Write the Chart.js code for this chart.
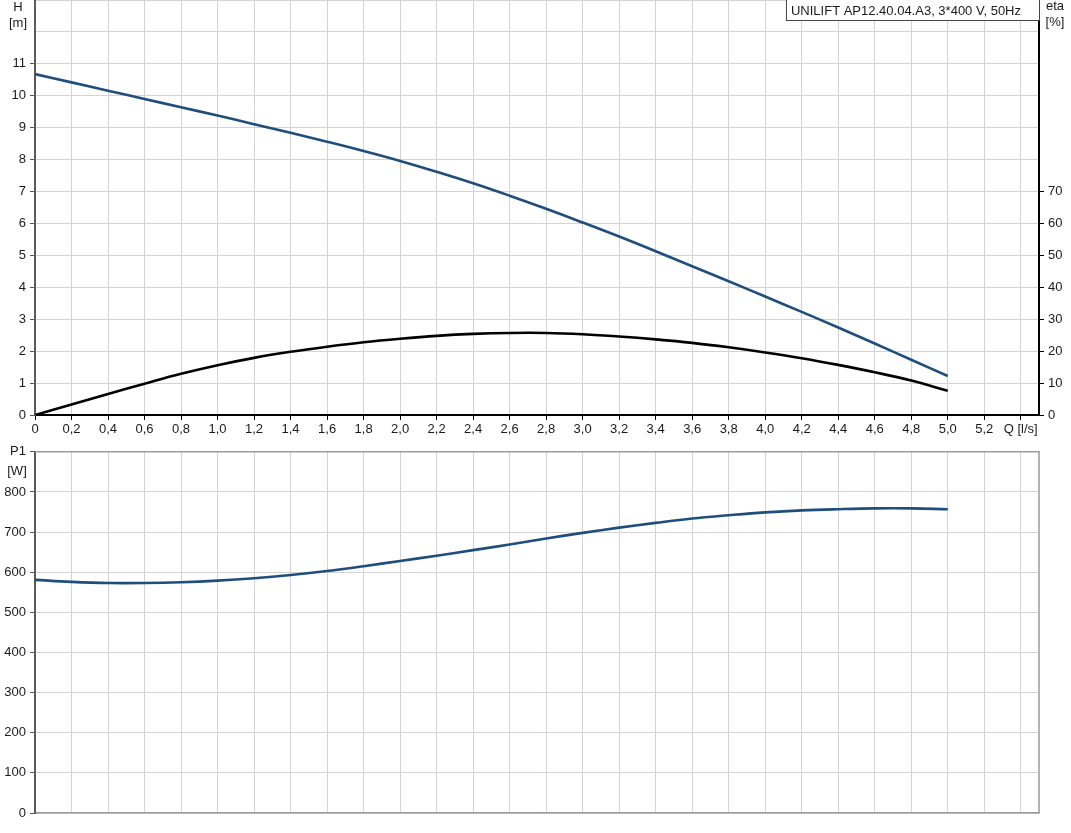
<!DOCTYPE html>
<html>
<head>
<meta charset="utf-8">
<script src="https://cdn.jsdelivr.net/npm/chart.js@4.4.1/dist/chart.umd.min.js"></script>
<style>
    body { margin: 0; background: #fff; }
    #wrap { position: relative; width: 1071px; height: 833px; }
    #curveChart { position: absolute; left: 0; top: 0; }
    #powerChart { position: absolute; left: 0; top: 440px; }
</style>
</head>
<body>
<div id="wrap">
    <canvas id="curveChart" width="1071" height="440"></canvas>
    <canvas id="powerChart" width="1071" height="393"></canvas>
</div>
<script>
// Q [l/s] sample points
const qValues = [0, 0.2, 0.4, 0.6, 0.8, 1.0, 1.2, 1.4, 1.6, 1.8, 2.0, 2.2, 2.4, 2.6, 2.8, 3.0, 3.2, 3.4, 3.6, 3.8, 4.0, 4.2, 4.4, 4.6, 4.8, 5.0];
// H [m]
const headValues = [10.68, 10.42, 10.16, 9.90, 9.64, 9.38, 9.11, 8.84, 8.56, 8.27, 7.96, 7.62, 7.26, 6.87, 6.46, 6.03, 5.59, 5.13, 4.66, 4.19, 3.71, 3.23, 2.74, 2.24, 1.73, 1.22];
// eta [%]
const etaValues = [0, 3.3, 6.6, 9.8, 12.9, 15.6, 17.9, 19.8, 21.4, 22.8, 23.9, 24.8, 25.4, 25.7, 25.7, 25.3, 24.6, 23.7, 22.6, 21.2, 19.6, 17.8, 15.7, 13.4, 10.8, 7.6];
// P1 [W]
const powerValues = [581, 576, 573, 573, 575, 579, 585, 593, 603, 615, 628, 641, 655, 669, 684, 698, 711, 723, 734, 742, 749, 754, 757, 759, 759, 757];

// axis ticks
const qTicks = [0, 0.2, 0.4, 0.6, 0.8, 1.0, 1.2, 1.4, 1.6, 1.8, 2.0, 2.2, 2.4, 2.6, 2.8, 3.0, 3.2, 3.4, 3.6, 3.8, 4.0, 4.2, 4.4, 4.6, 4.8, 5.0, 5.2, 5.4];
const qAxisTitle = 'Q [l/s]';
const pumpTitle = 'UNILIFT AP12.40.04.A3, 3*400 V, 50Hz';

const fontFamily = "'Liberation Sans', Arial, sans-serif";
const tickFont = { family: fontFamily, size: 13 };
const textColor = '#1a1a1a';
const gridColor = '#d3d3d3';
const curveBlue = '#1f4e7d';

function toPoints(values) {
    return qValues.map((q, i) => ({ x: q, y: values[i] }));
}

function qLabel(v) {
    if (v === 5.4) return qAxisTitle;
    if (v === 0) return '0';
    return v.toFixed(1).replace('.', ',');
}

function setQTicks(scale) {
    scale.ticks = qTicks.map(v => ({ value: v }));
}

const curveLabels = {
    id: 'curveLabels',
    afterDraw(chart) {
        const ctx = chart.ctx;
        const area = chart.chartArea;
        ctx.save();
        ctx.font = '13px ' + fontFamily;
        ctx.fillStyle = textColor;
        ctx.textAlign = 'center';
        ctx.textBaseline = 'middle';
        ctx.fillText('H', 18, 7);
        ctx.fillText('[m]', 18, 23);
        ctx.fillText('eta', 1055, 6);
        ctx.fillText('[%]', 1055, 22);

        // pump name box
        ctx.textAlign = 'left';
        const w = ctx.measureText(pumpTitle).width + 23;
        const left = area.right - w;
        ctx.fillStyle = '#fff';
        ctx.fillRect(left, 0, w, 21);
        ctx.strokeStyle = '#444';
        ctx.lineWidth = 1;
        ctx.strokeRect(left + 0.5, -1, w, 21.5);
        ctx.fillStyle = textColor;
        ctx.fillText(pumpTitle, left + 5, 11);
        ctx.restore();
    }
};

const powerLabels = {
    id: 'powerLabels',
    beforeDatasetsDraw(chart) {
        const ctx = chart.ctx;
        const area = chart.chartArea;
        ctx.save();
        ctx.strokeStyle = '#9a9a9a';
        ctx.lineWidth = 1.5;
        ctx.beginPath();
        ctx.moveTo(area.left, area.top);
        ctx.lineTo(area.right, area.top);
        ctx.lineTo(area.right, area.bottom);
        ctx.stroke();
        ctx.restore();
    },
    afterDraw(chart) {
        const ctx = chart.ctx;
        const area = chart.chartArea;
        ctx.save();
        ctx.font = '13px ' + fontFamily;
        ctx.fillStyle = textColor;
        ctx.textAlign = 'center';
        ctx.textBaseline = 'middle';
        ctx.fillText('[W]', 17, area.top + 20);
        ctx.restore();
    }
};

function createCurveChart() {
    const ctx = document.getElementById('curveChart').getContext('2d');

    new Chart(ctx, {
        type: 'line',
        data: {
            datasets: [
                {
                    label: 'H',
                    data: toPoints(headValues),
                    borderColor: curveBlue,
                    borderWidth: 2.6,
                    pointRadius: 0,
                    tension: 0.4,
                    yAxisID: 'y'
                },
                {
                    label: 'eta',
                    data: toPoints(etaValues),
                    borderColor: '#000',
                    borderWidth: 2.6,
                    pointRadius: 0,
                    tension: 0.4,
                    yAxisID: 'eta'
                }
            ]
        },
        options: {
            responsive: false,
            animation: false,
            layout: { padding: 0 },
            plugins: {
                legend: { display: false },
                tooltip: { enabled: false }
            },
            scales: {
                x: {
                    type: 'linear',
                    min: 0,
                    max: 5.5,
                    afterBuildTicks: setQTicks,
                    ticks: {
                        font: tickFont,
                        color: textColor,
                        padding: 2,
                        maxRotation: 0,
                        autoSkip: false,
                        callback: v => qLabel(v)
                    },
                    grid: { color: gridColor, tickLength: 5, tickColor: '#000' },
                    border: { color: '#000', width: 2 },
                    afterFit: s => { s.height = 25; }
                },
                y: {
                    position: 'left',
                    min: 0,
                    max: 13,
                    ticks: {
                        stepSize: 1,
                        font: tickFont,
                        color: textColor,
                        padding: 4,
                        callback: v => (v <= 11 ? String(v) : '')
                    },
                    grid: {
                        color: gridColor,
                        tickLength: 5,
                        tickColor: c => (c.tick && c.tick.value <= 11 ? '#555' : 'rgba(0,0,0,0)')
                    },
                    border: { color: '#5a5a5a', width: 2 },
                    afterFit: s => { s.width = 35; s.paddingTop = 0; }
                },
                eta: {
                    position: 'right',
                    min: 0,
                    max: 130,
                    ticks: {
                        stepSize: 10,
                        font: tickFont,
                        color: textColor,
                        padding: 4,
                        callback: v => (v <= 70 ? String(v) : '')
                    },
                    grid: {
                        drawOnChartArea: false,
                        tickLength: 5,
                        tickColor: c => (c.tick && c.tick.value <= 70 ? '#000' : 'rgba(0,0,0,0)')
                    },
                    border: { color: '#000', width: 2 },
                    afterFit: s => { s.width = 32; s.paddingTop = 0; }
                }
            }
        },
        plugins: [curveLabels]
    });
}

function createPowerChart() {
    const ctx = document.getElementById('powerChart').getContext('2d');

    new Chart(ctx, {
        type: 'line',
        data: {
            datasets: [{
                label: 'P1',
                data: toPoints(powerValues),
                borderColor: curveBlue,
                borderWidth: 2.6,
                pointRadius: 0,
                tension: 0.4
            }]
        },
        options: {
            responsive: false,
            animation: false,
            layout: { padding: { top: 9, right: 32 } },
            plugins: {
                legend: { display: false },
                tooltip: { enabled: false }
            },
            scales: {
                x: {
                    type: 'linear',
                    min: 0,
                    max: 5.5,
                    afterBuildTicks: setQTicks,
                    ticks: { display: false },
                    grid: { color: gridColor, drawTicks: false },
                    border: { color: '#9a9a9a', width: 1.5 },
                    afterFit: s => { s.height = 20; }
                },
                y: {
                    position: 'left',
                    min: 0,
                    max: 900,
                    ticks: {
                        stepSize: 100,
                        font: tickFont,
                        color: textColor,
                        padding: 4,
                        callback: v => (v === 900 ? 'P1' : String(v))
                    },
                    grid: { color: gridColor, tickLength: 5, tickColor: '#555' },
                    border: { color: '#5a5a5a', width: 2 },
                    afterFit: s => { s.width = 35; }
                }
            }
        },
        plugins: [powerLabels]
    });
}

createCurveChart();
createPowerChart();
</script>
</body>
</html>
